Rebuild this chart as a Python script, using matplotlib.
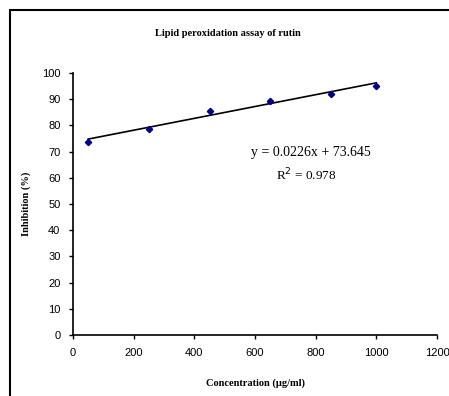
import matplotlib
matplotlib.use("Agg")
import matplotlib.pyplot as plt
from matplotlib.patches import Rectangle

conc = [50, 250, 450, 650, 850, 1000]
inhibition = [73.8, 78.5, 85.5, 89.3, 91.9, 95.1]
slope = 0.0226
intercept = 73.645
r2 = 0.978
xticks = [0, 200, 400, 600, 800, 1000, 1200]
yticks = [0, 10, 20, 30, 40, 50, 60, 70, 80, 90, 100]

fig = plt.figure(figsize=(4.49, 3.96), dpi=100)
W, H = 449, 396
ax = fig.add_axes([73 / W, 1 - 335 / H, (437 - 73) / W, (335 - 73) / H])

fig.patches.append(Rectangle((10 / W, -0.1), 1.2, 1 - 10 / H + 0.1,
                             transform=fig.transFigure, fill=False,
                             edgecolor='black', linewidth=1.5))

xs = [min(conc), max(conc)]
ax.plot(xs, [slope * v + intercept for v in xs], color='black', linewidth=1.2)
ax.plot(conc, inhibition, linestyle='none', marker='D', markersize=3.2,
        color='#00008B')

ax.set_xlim(0, 1200)
ax.set_ylim(0, 100)
ax.set_xticks(xticks)
ax.set_yticks(yticks)
for s in ['top', 'right']:
    ax.spines[s].set_visible(False)
for s in ['left', 'bottom']:
    ax.spines[s].set_linewidth(1.2)
ax.tick_params(direction='out', length=3, width=1, labelsize=8, pad=6)
for lab in ax.get_xticklabels() + ax.get_yticklabels():
    lab.set_family('Liberation Sans')

serif = 'Liberation Serif'
ax.set_xlabel('Concentration (µg/ml)', family=serif, fontsize=7.5,
              fontweight='bold', labelpad=15)
ax.set_ylabel('Inhibition (%)', family=serif, fontsize=7.5,
              fontweight='bold', labelpad=8)
fig.text(228 / W, 1 - 33 / H, 'Lipid peroxidation assay of rutin',
         family=serif, fontsize=7.5, fontweight='bold', ha='center', va='center')

ax.text(785, 69.5, f'y = {slope}x + {intercept}', family=serif, fontsize=10,
        ha='center', va='center')
ax.text(770, 61, f'R$^2$ = {r2}', family=serif, fontsize=9.5,
        ha='center', va='center')

fig.savefig('out.png', dpi=100)
